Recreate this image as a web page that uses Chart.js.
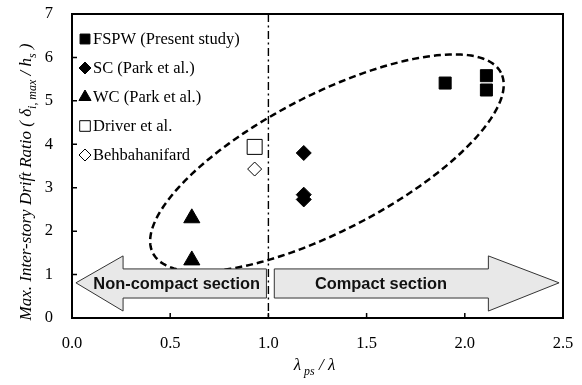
<!DOCTYPE html>
<html>
<head>
<meta charset="utf-8">
<script src="https://cdn.jsdelivr.net/npm/chart.js@4.4.1/dist/chart.umd.min.js"></script>
<style>
  html, body { margin: 0; padding: 0; background: #fff; }
</style>
</head>
<body>
<canvas id="driftChart" width="582" height="385"></canvas>
<script>
// series values
const fspwX = [1.90, 2.11, 2.11];
const fspwY = [5.41, 5.58, 5.25];
const scX = [1.18, 1.18, 1.18];
const scY = [3.80, 2.84, 2.73];
const wcX = [0.61, 0.61];
const wcY = [2.30, 1.33];
const driverX = [0.93];
const driverY = [3.94];
const behbX = [0.93];
const behbY = [3.43];

const seriesLabels = ['FSPW (Present study)', 'SC (Park et al.)', 'WC (Park et al.)', 'Driver et al.', 'Behbahanifard'];
const xTicks = [0, 0.5, 1.0, 1.5, 2.0, 2.5];
const yTicks = [0, 1, 2, 3, 4, 5, 6, 7];
const sectionLabels = ['Non-compact section', 'Compact section'];

const SERIF = '"Liberation Serif", "Times New Roman", serif';
const SANS = '"Liberation Sans", Arial, sans-serif';

function pts(xs, ys) {
    return xs.map((x, i) => ({ x: x, y: ys[i] }));
}

// shapes, in data units
const limitX = 1.0;
const ellipse = { cx: 1.298, cy: 3.57, ax: 0.886, ay: 2.078, bx: -0.159, by: 1.391 };
const arrowY = { mid: 0.81, bodyTop: 1.13, bodyBot: 0.46, headTop: 1.43, headBot: 0.16 };
const leftArrow = { tip: 0.02, headBase: 0.26, end: 0.99 };
const rightArrow = { tip: 2.48, headBase: 2.12, end: 1.03 };
const labelPos = [[0.533, 0.78], [1.573, 0.78]];

const overlay = {
    id: 'overlay',
    beforeDatasetsDraw(chart) {
        const ctx = chart.ctx;
        const xs = chart.scales.x, ys = chart.scales.y;
        const px = v => xs.getPixelForValue(v);
        const py = v => ys.getPixelForValue(v);
        ctx.save();

        // dashed ellipse
        ctx.beginPath();
        for (let i = 0; i <= 200; i++) {
            const t = i / 200 * Math.PI * 2;
            const X = px(ellipse.cx + ellipse.ax * Math.cos(t) + ellipse.bx * Math.sin(t));
            const Y = py(ellipse.cy + ellipse.ay * Math.cos(t) + ellipse.by * Math.sin(t));
            if (i === 0) ctx.moveTo(X, Y); else ctx.lineTo(X, Y);
        }
        ctx.closePath();
        ctx.setLineDash([7, 4]);
        ctx.lineWidth = 2.5;
        ctx.strokeStyle = '#000';
        ctx.stroke();
        ctx.setLineDash([]);

        // block arrows
        [leftArrow, rightArrow].forEach(a => {
            ctx.beginPath();
            ctx.moveTo(px(a.tip), py(arrowY.mid));
            ctx.lineTo(px(a.headBase), py(arrowY.headTop));
            ctx.lineTo(px(a.headBase), py(arrowY.bodyTop));
            ctx.lineTo(px(a.end), py(arrowY.bodyTop));
            ctx.lineTo(px(a.end), py(arrowY.bodyBot));
            ctx.lineTo(px(a.headBase), py(arrowY.bodyBot));
            ctx.lineTo(px(a.headBase), py(arrowY.headBot));
            ctx.closePath();
            ctx.fillStyle = '#e8e8e8';
            ctx.fill();
            ctx.lineWidth = 1;
            ctx.strokeStyle = '#333';
            ctx.stroke();
        });
        ctx.fillStyle = '#111';
        ctx.font = 'bold 16.4px ' + SANS;
        ctx.textAlign = 'center';
        ctx.textBaseline = 'middle';
        sectionLabels.forEach((s, i) => {
            ctx.fillText(s, px(labelPos[i][0]), py(labelPos[i][1]));
        });

        // dash-dot limit line
        ctx.beginPath();
        ctx.moveTo(px(limitX), chart.chartArea.top);
        ctx.lineTo(px(limitX), chart.chartArea.bottom);
        ctx.setLineDash([8, 3.5, 2, 3.5]);
        ctx.lineWidth = 1.4;
        ctx.strokeStyle = '#000';
        ctx.stroke();
        ctx.restore();
    },
    afterDraw(chart) {
        const ctx = chart.ctx;
        const area = chart.chartArea;
        const xs = chart.scales.x, ys = chart.scales.y;
        ctx.save();

        // frame and inward ticks
        ctx.strokeStyle = '#000';
        ctx.lineWidth = 2;
        ctx.strokeRect(area.left, area.top, area.right - area.left, area.bottom - area.top);
        ctx.lineWidth = 1.5;
        ctx.beginPath();
        yTicks.forEach(v => {
            const y = ys.getPixelForValue(v);
            ctx.moveTo(area.left, y);
            ctx.lineTo(area.left + 5, y);
        });
        xTicks.forEach(v => {
            const x = xs.getPixelForValue(v);
            ctx.moveTo(x, area.bottom);
            ctx.lineTo(x, area.bottom - 5);
        });
        ctx.stroke();

        // legend inside the plot, top left
        chart.data.datasets.forEach((ds, i) => {
            const y = area.top + 25 + i * 29;
            ctx.fillStyle = ds.backgroundColor;
            ctx.strokeStyle = ds.borderColor;
            ctx.lineWidth = ds.borderWidth;
            Chart.helpers.drawPoint(ctx, {
                pointStyle: ds.pointStyle,
                radius: ds.legendRadius,
                borderWidth: ds.borderWidth,
                rotation: 0
            }, area.left + 13, y);
            ctx.fillStyle = '#000';
            ctx.font = '16.5px ' + SERIF;
            ctx.textAlign = 'left';
            ctx.textBaseline = 'middle';
            ctx.fillText(ds.label, area.left + 21, y + 1);
        });

        // axis titles with subscripts
        function drawRich(parts, size) {
            let total = 0;
            parts.forEach(p => {
                ctx.font = 'italic ' + (p.sub ? size * 0.7 : size) + 'px ' + SERIF;
                p.w = ctx.measureText(p.t).width;
                total += p.w;
            });
            let x = -total / 2;
            parts.forEach(p => {
                ctx.font = 'italic ' + (p.sub ? size * 0.7 : size) + 'px ' + SERIF;
                ctx.fillText(p.t, x, p.sub ? size * 0.3 : 0);
                x += p.w;
            });
        }
        ctx.fillStyle = '#000';
        ctx.textAlign = 'left';
        ctx.textBaseline = 'alphabetic';
        ctx.save();
        ctx.translate(31, 182);
        ctx.rotate(-Math.PI / 2);
        drawRich([
            { t: 'Max. Inter-story Drift Ratio ( δ' },
            { t: 'i, max', sub: true },
            { t: ' / h' },
            { t: 's', sub: true },
            { t: ' )' }
        ], 17);
        ctx.restore();
        ctx.save();
        ctx.translate((area.left + area.right) / 2 - 3, 370);
        drawRich([
            { t: 'λ' },
            { t: ' ps', sub: true },
            { t: ' / λ' }
        ], 17);
        ctx.restore();
        ctx.restore();
    }
};

const ctx = document.getElementById('driftChart').getContext('2d');
new Chart(ctx, {
    type: 'scatter',
    data: {
        datasets: [
            { label: seriesLabels[0], data: pts(fspwX, fspwY), pointStyle: 'rect', pointRadius: 8.5, legendRadius: 7,
              backgroundColor: '#000', borderColor: '#000', borderWidth: 1 },
            { label: seriesLabels[1], data: pts(scX, scY), pointStyle: 'rectRot', pointRadius: 7.5, legendRadius: 6,
              backgroundColor: '#000', borderColor: '#000', borderWidth: 1 },
            { label: seriesLabels[2], data: pts(wcX, wcY), pointStyle: 'triangle', pointRadius: 9.3, legendRadius: 7,
              backgroundColor: '#000', borderColor: '#000', borderWidth: 1 },
            { label: seriesLabels[3], data: pts(driverX, driverY), pointStyle: 'rect', pointRadius: 10.6, legendRadius: 7.5,
              backgroundColor: '#fff', borderColor: '#000', borderWidth: 1 },
            { label: seriesLabels[4], data: pts(behbX, behbY), pointStyle: 'rectRot', pointRadius: 7, legendRadius: 6,
              backgroundColor: '#fff', borderColor: '#000', borderWidth: 1 }
        ]
    },
    options: {
        responsive: false,
        animation: false,
        devicePixelRatio: 1,
        layout: { padding: { top: 14, right: 19, left: 0, bottom: 0 } },
        plugins: {
            legend: { display: false },
            tooltip: { enabled: false }
        },
        elements: { point: { hoverRadius: 0 } },
        scales: {
            x: {
                type: 'linear', min: 0, max: 2.5,
                afterBuildTicks: s => { s.ticks = xTicks.map(v => ({ value: v })); },
                afterFit: s => { s.height = 67; s.paddingLeft = 0; s.paddingRight = 0; },
                ticks: {
                    callback: v => v.toFixed(1),
                    font: { family: SERIF, size: 16.5 }, color: '#000', padding: 16,
                    maxRotation: 0, autoSkip: false
                },
                grid: { display: false, drawTicks: false },
                border: { display: false }
            },
            y: {
                type: 'linear', min: 0, max: 7,
                afterBuildTicks: s => { s.ticks = yTicks.map(v => ({ value: v })); },
                afterFit: s => { s.width = 72; s.paddingTop = 0; s.paddingBottom = 0; },
                ticks: {
                    font: { family: SERIF, size: 16.5 }, color: '#000', padding: 19
                },
                grid: { display: false, drawTicks: false },
                border: { display: false }
            }
        }
    },
    plugins: [overlay]
});
</script>
</body>
</html>
